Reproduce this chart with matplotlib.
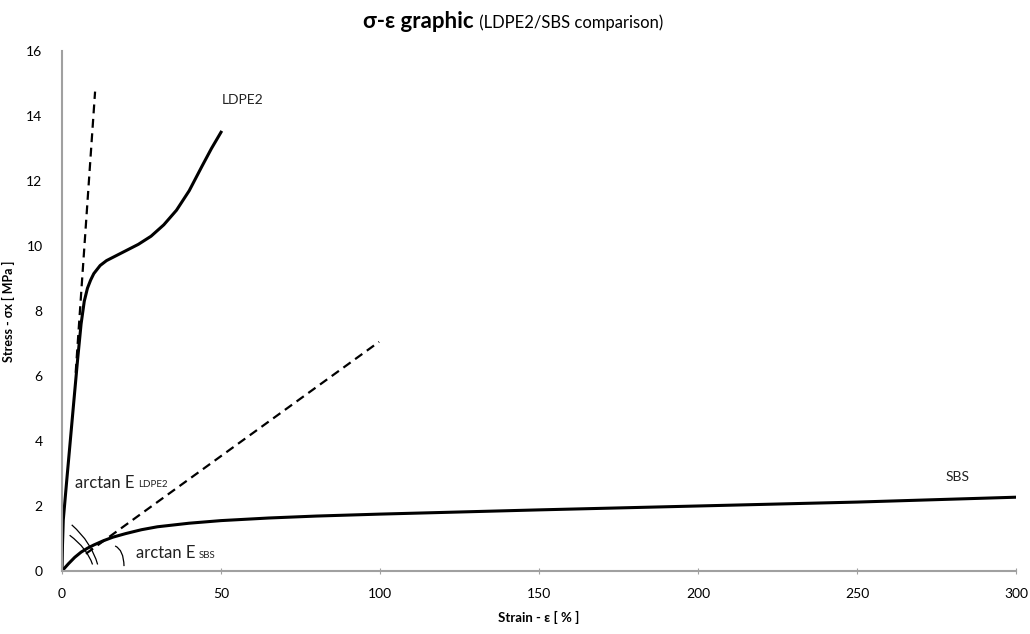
import matplotlib.pyplot as plt
from matplotlib.path import Path
from matplotlib.patches import PathPatch

plt.rcParams['font.family'] = ['Lato', 'DejaVu Sans']

# LDPE2 stress-strain curve (strain %, stress MPa)
ldpe_strain = [0, 0.15, 0.4, 1.5, 2.6, 3.7, 4.9, 6, 7, 8, 9, 10, 12, 14, 17, 20, 24, 28, 32, 36, 40, 44, 47, 50]
ldpe_stress = [0, 0.8, 1.57, 2.8, 4.0, 5.2, 6.5, 7.6, 8.3, 8.7, 8.95, 9.15, 9.4, 9.55, 9.7, 9.85,
               10.05, 10.3, 10.65, 11.1, 11.7, 12.45, 13.0, 13.5]

# SBS stress-strain curve
sbs_strain = [0, 2, 4, 6, 8, 10, 13, 16, 20, 25, 30, 40, 50, 65, 80, 100, 150, 200, 250, 300]
sbs_stress = [0, 0.22, 0.42, 0.58, 0.7, 0.8, 0.93, 1.04, 1.15, 1.27, 1.36, 1.47, 1.55, 1.63, 1.69,
              1.75, 1.88, 2.0, 2.12, 2.27]

# tangent (modulus) lines
ldpe_tan_x = [4.3, 10.4]
ldpe_tan_y = [6.1, 14.75]
sbs_tan_x = [7.5, 99.7]
sbs_tan_y = [0.53, 7.05]

# angle arcs (start, control, end)
arcs = [
    [(3.05, 1.42), (9.3, 0.88), (11.2, 0.2)],
    [(2.4, 1.1), (7.9, 0.7), (9.6, 0.2)],
    [(16.7, 0.77), (19.4, 0.65), (19.5, 0.15)],
]

x_ticks = [0, 50, 100, 150, 200, 250, 300]
y_ticks = [0, 2, 4, 6, 8, 10, 12, 14, 16]

fig = plt.figure(figsize=(10.3, 6.34), dpi=100)
ax = fig.add_axes([0.0602, 0.0994, 0.9262, 0.8202])

ax.plot(ldpe_strain, ldpe_stress, color='black', lw=2.2, solid_joinstyle='round')
ax.plot(sbs_strain, sbs_stress, color='black', lw=2.2, solid_joinstyle='round')
ax.plot(ldpe_tan_x, ldpe_tan_y, color='black', lw=1.6, ls=(0, (4, 2.5)))
ax.plot(sbs_tan_x, sbs_tan_y, color='black', lw=1.6, ls=(0, (4, 2.5)))

for a in arcs:
    p = Path(a, [Path.MOVETO, Path.CURVE3, Path.CURVE3])
    ax.add_patch(PathPatch(p, facecolor='none', edgecolor='black', lw=0.9))

ax.text(50.3, 14.5, 'LDPE2', fontsize=10, color='#222222', va='center')
ax.text(277.7, 2.9, 'SBS', fontsize=10, color='#222222', va='center')

# "arctan E" labels with small baseline subscripts
t1 = ax.text(4.1, 2.56, 'arctan E', fontsize=12, color='#222222', va='baseline')
ax.annotate('LDPE2', xy=(1, 0), xycoords=t1, xytext=(2.5, 1.0), textcoords='offset points',
            fontsize=7, color='#222222', va='bottom')
t2 = ax.text(23.3, 0.39, 'arctan E', fontsize=12, color='#222222', va='baseline')
ax.annotate('SBS', xy=(1, 0), xycoords=t2, xytext=(2.5, 1.0), textcoords='offset points',
            fontsize=7, color='#222222', va='bottom')

ax.set_xlim(0, 300)
ax.set_ylim(0, 16)
ax.set_xticks(x_ticks)
ax.set_yticks(y_ticks)
ax.tick_params(axis='x', length=4, direction='inout', color='#a0a0a0', labelsize=10, pad=10)
ax.tick_params(axis='y', length=0, labelsize=10, pad=14)
for s in ['top', 'right']:
    ax.spines[s].set_visible(False)
for s in ['left', 'bottom']:
    ax.spines[s].set_color('#a0a0a0')
    ax.spines[s].set_linewidth(1.5)

ax.set_xlabel('Strain - ε [ % ]', fontsize=9.5, fontweight='bold', labelpad=8)
ax.set_ylabel('Stress - σx [ MPa ]', fontsize=9, fontweight='bold', labelpad=8)

fig.text(0.460, 0.966, 'σ-ε graphic', fontsize=16, fontweight='bold', ha='right', va='center')
fig.text(0.461, 0.964, ' (LDPE2/SBS comparison)', fontsize=12, ha='left', va='center')

fig.savefig('out.png', dpi=100)
